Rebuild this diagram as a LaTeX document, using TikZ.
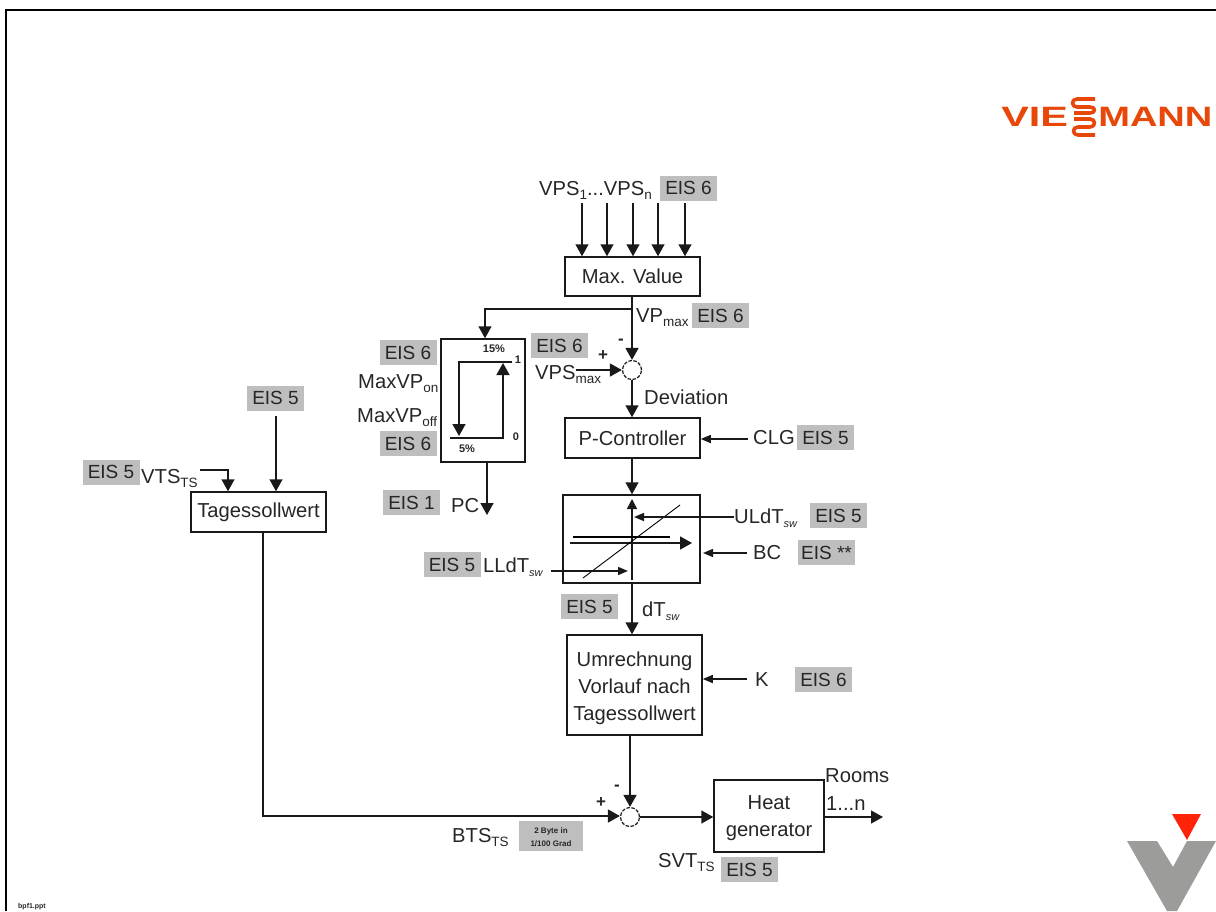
\documentclass[tikz,border=0pt]{standalone}
\usepackage{fontspec}
\setmainfont{Liberation Sans}
\usetikzlibrary{arrows.meta,calc}
\definecolor{eisgray}{HTML}{BEBEBE}
\definecolor{vieorange}{HTML}{E8470A}
\definecolor{viered}{HTML}{FF2408}
\definecolor{viegray}{HTML}{9C9D9B}
\newcommand{\lowtxt}[1]{\raisebox{-4.5pt}{\fontsize{13.5}{14}\selectfont #1}}
\newcommand{\swtxt}[1]{\raisebox{-4.5pt}{\fontsize{11}{12}\selectfont\itshape #1}}
\tikzset{
  every node/.style={font=\fontsize{20.2}{24}\selectfont,inner sep=0pt,text=black!85},
  conn/.style={line width=1.5pt,draw=black!90},
  arr/.style={conn,-{Triangle[width=13pt,length=12pt]}},
  arrs/.style={conn,-{Triangle[width=8pt,length=10pt]}},
  blockbox/.style={draw=black!90,line width=1.5pt,fill=white,align=center},
  eis/.style={fill=eisgray,minimum width=57pt,minimum height=25pt,text=black!85,font=\fontsize{19}{24}\selectfont},
  lab/.style={anchor=base west},
  small/.style={font=\fontsize{11}{12}\selectfont\bfseries},
  sumnode/.style={circle,draw=black!90,line width=1.2pt,dash pattern=on 3.5pt off 1.5pt,minimum size=19pt},
  logo/.style={font=\fontsize{28}{30}\selectfont\bfseries,text=vieorange,anchor=base west},
}
\begin{document}
\begin{tikzpicture}[x=1pt,y=-1pt]
\useasboundingbox (0,0) rectangle (1216,911);
% frame
\draw[line width=2pt,black] (6,911) -- (6,10) -- (1216,10);

% blocks
\node[blockbox,minimum width=135pt,minimum height=39pt] (maxval) at (632.5,276.5) {Max. Value};
\node[blockbox,minimum width=84pt,minimum height=123pt] (hyst) at (483,400.5) {};
\node[blockbox,minimum width=135pt,minimum height=40pt] (pctrl) at (632.5,438) {P-Controller};
\node[blockbox,minimum width=137pt,minimum height=88pt] (limit) at (631.5,539) {};
\node[blockbox,minimum width=135pt,minimum height=100pt] (umr) at (634.5,685) {};
\node[blockbox,minimum width=135pt,minimum height=40pt] (tages) at (258.5,512) {Tagessollwert};
\node[blockbox,minimum width=110pt,minimum height=72pt] (heat) at (769,816) {};
\node[sumnode] (sum1) at (632,370) {};
\node[sumnode] (sum2) at (630,817) {};

% text in multi-line blocks
\node[anchor=base] (umr1) at (634.5,666) {Umrechnung};
\node[anchor=base] (umr2) at (634.5,693) {Vorlauf nach};
\node[anchor=base] (umr3) at (634.5,720) {Tagessollwert};
\node[anchor=base] (heat1) at (769,809) {Heat};
\node[anchor=base] (heat2) at (769,836) {generator};

% gray EIS labels
\node[eis] (e1) at (688.5,188) {EIS 6};
\node[eis] (e2) at (720.5,315.5) {EIS 6};
\node[eis] (e3) at (559.5,345.5) {EIS 6};
\node[eis] (e4) at (408,352.5) {EIS 6};
\node[eis] (e5) at (408,443.5) {EIS 6};
\node[eis] (e6) at (825.5,437.5) {EIS 5};
\node[eis] (e7) at (411.5,502.5) {EIS 1};
\node[eis] (e8) at (838.5,515.5) {EIS 5};
\node[eis] (e9) at (826.5,552.5) {EIS **};
\node[eis] (e10) at (452,564.5) {EIS 5};
\node[eis] (e11) at (589.5,606.5) {EIS 5};
\node[eis] (e12) at (823.5,679.5) {EIS 6};
\node[eis] (e13) at (275.5,398) {EIS 5};
\node[eis] (e14) at (111,472) {EIS 5};
\node[eis] (e15) at (749.5,869.5) {EIS 5};
\node[eis,minimum width=64pt,minimum height=30pt] (e16) at (551,836) {};
\node[small,anchor=base] (e16a) at (551,833) {\fontsize{8}{9}\selectfont 2 Byte in};
\node[small,anchor=base] (e16b) at (551,846) {\fontsize{8}{9}\selectfont 1/100 Grad};

% signal labels
\node[lab] (vps) at (539,195) {VPS\lowtxt{1}...VPS\lowtxt{n}};
\node[lab] (vpmax) at (636,322) {VP\lowtxt{max}};
\node[lab] (vpsmax) at (535,379) {VPS\lowtxt{max}};
\node[lab] (dev) at (644,404) {Deviation};
\node[lab] (clg) at (753,444) {CLG};
\node[lab] (mon) at (358,388) {MaxVP\lowtxt{on}};
\node[lab] (moff) at (357,422) {MaxVP\lowtxt{off}};
\node[lab] (pc) at (451,512) {PC};
\node[lab] (uld) at (734,523) {ULdT\swtxt{sw}};
\node[lab] (bc) at (753,559) {BC};
\node[lab] (lld) at (483,572) {LLdT\swtxt{sw}};
\node[lab] (dt) at (642,616) {dT\swtxt{sw}};
\node[lab] (kk) at (755,686) {K};
\node[lab] (vts) at (141,483) {VTS\lowtxt{TS}};
\node[lab] (bts) at (452,842) {BTS\lowtxt{TS}};
\node[lab] (svt) at (658,867) {SVT\lowtxt{TS}};
\node[lab] (rooms) at (825,782) {Rooms};
\node[lab] (roomsn) at (826,810) {1...n};
\node[font=\fontsize{17}{18}\selectfont\bfseries] (minus1) at (621,342) {-};
\node[font=\fontsize{17}{18}\selectfont\bfseries] (plus1) at (603,356) {+};
\node[font=\fontsize{17}{18}\selectfont\bfseries] (minus2) at (617,788) {-};
\node[font=\fontsize{17}{18}\selectfont\bfseries] (plus2) at (601,803) {+};

% hysteresis labels
\node[small] (h15) at (494,349) {15\%};
\node[small] (h5) at (467,449) {5\%};
\node[small] (h1) at (518,360) {1};
\node[small] (h0) at (516,437) {0};

% inputs to max value
\foreach \n/\x in {1/582,2/607,3/633,4/658,5/685}{
  \coordinate (in\n) at (\x,203);
  \draw[arr] (in\n) -- (in\n |- maxval.north);
}
% VP max path
\coordinate (vpsplit) at (632,309);
\coordinate (hystin) at (485,309);
\draw[arr] (maxval.south -| sum1) -- (sum1.north);
\draw[arr] (vpsplit) -- (hystin) -- (hystin |- hyst.north);
% VPS max into sum
\coordinate (vpsend) at (576,370);
\draw[arr] (vpsend) -- (sum1.west);
\draw[arr] (sum1.south) -- (sum1 |- pctrl.north);
% CLG
\coordinate (clgend) at (748,439);
\draw[arrs] (clgend) -- (pctrl.east |- clgend);
% hysteresis curve
\coordinate (hTL) at (459,362);
\coordinate (hTR) at (512,362);
\coordinate (hLE) at (459,436);
\coordinate (hBL) at (450,438);
\coordinate (hBR) at (503,438);
\coordinate (hUE) at (503,363);
\draw[arr] (hTR) -- (hTL) -- (hLE);
\draw[arr] (hBL) -- (hBR) -- (hUE);
% PC
\coordinate (pcend) at (487,515);
\draw[arr] (hyst.south -| pcend) -- (pcend);
% pctrl to limit
\coordinate (pl) at (632,458);
\draw[arr] (pl) -- (pl |- limit.north);
% limiter inside
\coordinate (axB) at (632,580);
\coordinate (axT) at (632,499);
\draw[conn,-{Triangle[width=10pt,length=10pt]}] (axB) -- (axT);
\coordinate (axL) at (570,543);
\coordinate (axR) at (692,543);
\draw[arr] (axL) -- (axR);
\coordinate (upL) at (573,537);
\coordinate (upR) at (670,537);
\draw[line width=1.2pt] (upL) -- (upR);
\coordinate (dgA) at (583,578);
\coordinate (dgB) at (680,505);
\draw[line width=0.9pt] (dgA) -- (dgB);
\coordinate (ulS) at (734,517);
\coordinate (ulE) at (634,517);
\draw[arrs] (ulS) -- (ulE);
\coordinate (llS) at (551,571);
\coordinate (llE) at (628,571);
\draw[arrs] (llS) -- (llE);
\coordinate (bcS) at (747,553);
\coordinate (bcE) at (703,553);
\draw[arrs] (bcS) -- (bcE);
% limit to umr
\coordinate (lu) at (632,583);
\draw[arr] (lu) -- (lu |- umr.north);
\coordinate (kS) at (747,679);
\draw[arrs] (kS) -- (umr.east |- kS);
\draw[arr] (umr.south -| sum2) -- (sum2.north);
% tages
\coordinate (t1) at (276,416);
\draw[arr] (t1) -- (t1 |- tages.north);
\coordinate (t2a) at (200,470);
\coordinate (t2b) at (228,470);
\draw[arr] (t2a) -- (t2b) -- (t2b |- tages.north);
\coordinate (tbot) at (263,816);
\draw[arr] (tages.south -| tbot) -- (tbot) -- (sum2.west |- tbot);
% heat
\draw[arr] (sum2.east) -- (heat.west |- sum2);
\coordinate (out) at (883,817);
\draw[arr] (heat.east |- out) -- (out);

% bottom file name
\node[font=\fontsize{7}{8}\selectfont\bfseries,anchor=base west] (fname) at (18,908) {bpf1.ppt};

% Viessmann logo
\node[logo,xscale=1.48] (lvie) at (1001,126) {VIE};
\node[logo,xscale=1.36] (lmann) at (1098,126) {MANN};
\draw[vieorange,line width=3.6pt,line join=round] (1095,99) -- (1077,99) .. controls (1071,99) and (1071,107) .. (1077,107) -- (1090,107) .. controls (1096,107) and (1096,113) .. (1090,113) -- (1074,113);
\draw[vieorange,line width=3.6pt,line join=round] (1074,119) -- (1090,119) .. controls (1096,119) and (1096,127) .. (1090,127) -- (1078,127) .. controls (1072,127) and (1072,135) .. (1078,135) -- (1095,135);
% V logo
\fill[viered] (1172,814) -- (1201,814) -- (1187,840) -- cycle;
\fill[viegray] (1127,841) -- (1157,841) -- (1173,867) -- (1187,841) -- (1216,841) -- (1177,911) -- (1167,911) -- cycle;
\end{tikzpicture}
\end{document}
